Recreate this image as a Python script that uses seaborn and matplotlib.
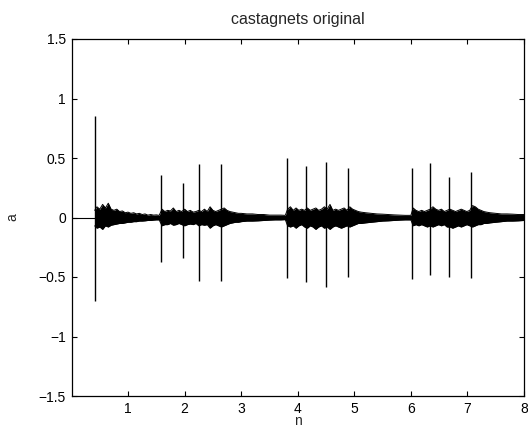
import numpy as np
import pandas as pd
import matplotlib
matplotlib.use("Agg")
import matplotlib.pyplot as plt
import seaborn as sns

# ---- data (x in units of the axis, amplitude a) ----
title = "castagnets original"
xlabel = "n"
ylabel = "a"
xticks = [1, 2, 3, 4, 5, 6, 7, 8]
yticks = [-1.5, -1, -0.5, 0, 0.5, 1, 1.5]
ytick_labels = ["\u22121.5", "\u22121", "\u22120.5", "0", "0.5", "1", "1.5"]

# click transients
spike_x = [0.41, 1.59, 1.97, 2.25, 2.64, 3.81, 4.14, 4.50, 4.88, 6.02, 6.34, 6.68, 7.07]
spike_hi = [0.85, 0.36, 0.29, 0.45, 0.45, 0.50, 0.43, 0.47, 0.42, 0.42, 0.46, 0.34, 0.38]
spike_lo = [-0.70, -0.37, -0.34, -0.53, -0.53, -0.51, -0.54, -0.58, -0.50, -0.52, -0.48, -0.50, -0.51]

# silent lead-in
lead_x = [0.0, 0.41]
lead_a = [0.0, 0.0]

# envelope of the ringing between clicks (upper / lower)
env_x = [0.41, 0.45, 0.50, 0.55, 0.60, 0.65, 0.70, 0.75, 0.80, 0.85, 0.90, 0.95, 1.00, 1.05, 1.10,
         1.15, 1.20, 1.25, 1.30, 1.35, 1.40, 1.45, 1.50, 1.55,
         1.60, 1.65, 1.70, 1.75, 1.80, 1.85, 1.90, 1.95, 2.00, 2.05, 2.10, 2.15, 2.20, 2.25, 2.30,
         2.35, 2.40, 2.45, 2.50, 2.55, 2.60, 2.65, 2.70, 2.75, 2.80, 2.85, 2.90, 2.95, 3.00, 3.10,
         3.20, 3.30, 3.40, 3.50, 3.60, 3.70, 3.78,
         3.82, 3.87, 3.92, 3.97, 4.02, 4.07, 4.12, 4.17, 4.22, 4.27, 4.32, 4.37, 4.42, 4.47, 4.52,
         4.57, 4.62, 4.67, 4.72, 4.77, 4.82, 4.87, 4.92, 4.97, 5.02, 5.07, 5.12, 5.20, 5.30, 5.40,
         5.50, 5.60, 5.70, 5.80, 5.90, 6.00,
         6.04, 6.09, 6.14, 6.19, 6.24, 6.29, 6.34, 6.39, 6.44, 6.49, 6.54, 6.59, 6.64, 6.69, 6.74,
         6.79, 6.84, 6.89, 6.94, 6.99, 7.04, 7.09, 7.14, 7.19, 7.24, 7.29, 7.34, 7.40, 7.50, 7.60,
         7.70, 7.80, 7.90, 8.00]
env_hi = [0.06, 0.09, 0.07, 0.11, 0.08, 0.12, 0.07, 0.06, 0.07, 0.05, 0.055, 0.04, 0.045, 0.035, 0.04,
          0.03, 0.035, 0.025, 0.03, 0.02, 0.025, 0.02, 0.022, 0.018,
          0.07, 0.05, 0.06, 0.055, 0.08, 0.05, 0.06, 0.05, 0.07, 0.05, 0.06, 0.045, 0.05, 0.06, 0.05,
          0.07, 0.05, 0.09, 0.06, 0.05, 0.06, 0.07, 0.08, 0.06, 0.05, 0.045, 0.04, 0.035, 0.035, 0.03,
          0.03, 0.025, 0.025, 0.02, 0.02, 0.02, 0.018,
          0.07, 0.09, 0.06, 0.08, 0.06, 0.07, 0.06, 0.08, 0.06, 0.07, 0.08, 0.06, 0.07, 0.09, 0.07,
          0.11, 0.06, 0.07, 0.06, 0.07, 0.08, 0.06, 0.09, 0.07, 0.06, 0.05, 0.045, 0.04, 0.035, 0.03,
          0.028, 0.025, 0.022, 0.02, 0.018, 0.018,
          0.08, 0.06, 0.05, 0.06, 0.05, 0.06, 0.07, 0.09, 0.07, 0.06, 0.07, 0.05, 0.06, 0.07, 0.06,
          0.05, 0.06, 0.07, 0.06, 0.05, 0.06, 0.10, 0.09, 0.07, 0.06, 0.05, 0.045, 0.04, 0.035, 0.03,
          0.03, 0.028, 0.025, 0.025]
env_lo = [-0.07, -0.09, -0.08, -0.10, -0.07, -0.08, -0.065, -0.06, -0.055, -0.05, -0.05, -0.045, -0.04, -0.04, -0.035,
          -0.035, -0.03, -0.03, -0.028, -0.025, -0.025, -0.022, -0.02, -0.02,
          -0.07, -0.06, -0.06, -0.05, -0.065, -0.06, -0.05, -0.06, -0.07, -0.06, -0.055, -0.06, -0.05, -0.07, -0.06,
          -0.065, -0.06, -0.09, -0.07, -0.06, -0.07, -0.08, -0.07, -0.06, -0.05, -0.045, -0.04, -0.04, -0.035, -0.03,
          -0.03, -0.028, -0.025, -0.022, -0.02, -0.02, -0.018,
          -0.07, -0.08, -0.07, -0.09, -0.07, -0.06, -0.08, -0.09, -0.07, -0.08, -0.10, -0.08, -0.07, -0.09, -0.08,
          -0.10, -0.08, -0.07, -0.08, -0.09, -0.08, -0.07, -0.08, -0.07, -0.06, -0.05, -0.05, -0.045, -0.04, -0.035,
          -0.03, -0.028, -0.025, -0.022, -0.02, -0.02,
          -0.07, -0.06, -0.07, -0.06, -0.07, -0.08, -0.07, -0.08, -0.07, -0.06, -0.07, -0.06, -0.08, -0.08, -0.09,
          -0.08, -0.07, -0.08, -0.07, -0.06, -0.07, -0.08, -0.07, -0.06, -0.06, -0.05, -0.05, -0.045, -0.04, -0.035,
          -0.03, -0.03, -0.028, -0.025]

# ---- styling ----
sns.set_style("ticks")
plt.rcParams["font.family"] = ["Liberation Sans", "DejaVu Sans"]
plt.rcParams["axes.unicode_minus"] = True

fig = plt.figure(figsize=(5.28, 4.32), dpi=100)
ax = fig.add_axes([71.5 / 528, 1 - 396 / 432, (524 - 71.5) / 528, (396 - 39) / 432])

env_df = pd.DataFrame({"x": env_x, "hi": env_hi, "lo": env_lo})
lead_df = pd.DataFrame({"x": lead_x, "a": lead_a})

ax.fill_between(env_df["x"], env_df["lo"], env_df["hi"], color="black", linewidth=0)
sns.lineplot(data=env_df, x="x", y="hi", ax=ax, color="black", linewidth=0.7,
             estimator=None, sort=False)
sns.lineplot(data=env_df, x="x", y="lo", ax=ax, color="black", linewidth=0.7,
             estimator=None, sort=False)
sns.lineplot(data=lead_df, x="x", y="a", ax=ax, color="black", linewidth=0.8,
             estimator=None, sort=False)
ax.vlines(spike_x, spike_lo, spike_hi, color="black", linewidth=1.0)

ax.set_xlim(0, 8)
ax.set_ylim(-1.5, 1.5)
ax.set_xticks(xticks)
ax.set_xticklabels([str(v) for v in xticks])
ax.set_yticks(yticks)
ax.set_yticklabels(ytick_labels)

for s in ax.spines.values():
    s.set_visible(True)
    s.set_linewidth(0.9)
    s.set_color("black")
ax.tick_params(direction="in", length=3.5, width=0.8, top=True, right=True,
               labelsize=10, colors="black", pad=4)
ax.set_title(title, fontsize=11.5, pad=11)
ax.set_xlabel(xlabel, fontsize=10, labelpad=-1)
ax.set_ylabel(ylabel, fontsize=10, labelpad=14)

fig.savefig("out.png", dpi=100)
